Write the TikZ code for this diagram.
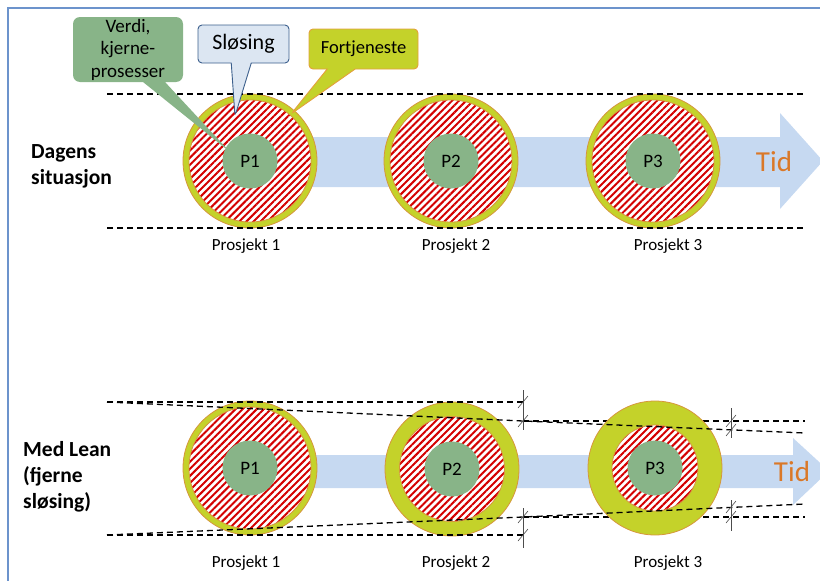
\documentclass[tikz,border=0pt]{standalone}
\usepackage{fontspec}
\setmainfont{Carlito}
\usetikzlibrary{shapes.callouts,patterns.meta}

\definecolor{ringgreen}{RGB}{196,210,42}
\definecolor{ringedge}{RGB}{214,150,60}
\definecolor{hatchred}{RGB}{212,0,0}
\definecolor{coregreen}{RGB}{136,180,136}
\definecolor{arrowblue}{RGB}{198,217,241}
\definecolor{slosblue}{RGB}{220,230,242}
\definecolor{slosedge}{RGB}{60,95,140}
\definecolor{fortedge}{RGB}{228,160,60}
\definecolor{tidorange}{RGB}{218,120,40}
\definecolor{frameblue}{RGB}{108,147,204}

\begin{document}
\begin{tikzpicture}[x=1pt,y=-1pt,
    ring/.style={circle,draw=ringedge,line width=0.8pt,fill=ringgreen,inner sep=0pt,minimum size=134pt},
    waste/.style={circle,draw=ringedge,line width=0.8pt,preaction={fill=white},
      pattern={Lines[angle=45,distance=5pt,line width=2pt]},pattern color=hatchred,inner sep=0pt},
    core/.style={circle,fill=coregreen,inner sep=0pt,minimum size=55pt,font=\fontsize{19}{20}\selectfont},
    limit/.style={dash pattern=on 6pt off 4pt,line width=1.3pt},
    brk/.style={line width=0.6pt,black!70},
    plabel/.style={inner sep=0pt,font=\fontsize{17}{18}\selectfont},
    rowlabel/.style={anchor=west,align=left,inner sep=0pt,font=\bfseries\fontsize{21.5}{26}\selectfont},
    tid/.style={inner sep=0pt,text=tidorange,font=\fontsize{29}{30}\selectfont},
    bubble/.style={rectangle callout,inner sep=0pt,align=center,rounded corners=4pt}]
    \useasboundingbox (0,0) rectangle (820,581);
    \clip (0,0) rectangle (820,581);
    % frame
    \draw[frameblue,line width=2pt] (8,581) -- (8,8) -- (820,8);
    % time arrows
    \fill[arrowblue] (250,137) -- (780,137) -- (780,113) -- (823,161) -- (780,209) -- (780,187) -- (250,187) -- cycle;
    \fill[arrowblue] (250,455) -- (793,455) -- (793,438) -- (829,471) -- (793,505) -- (793,488) -- (250,488) -- cycle;
    \node[tid] (tidtop) at (774,162) {Tid};
    \node[tid] (tidlow) at (792,472) {Tid};
    % row labels
    \node[rowlabel] (today) at (31,166) {Dagens\\situasjon};
    \node[rowlabel] (lean) at (23,477) {Med Lean\\(fjerne\\sløsing)};
    % limits behind the last project
    \coordinate (ub) at (523,421);
    \coordinate (ue) at (805,421);
    \coordinate (lb) at (523,517);
    \coordinate (le) at (805,517);
    \draw[limit] (ub) -- (ue);
    \draw[limit] (lb) -- (le);
    % projects today
    \foreach \i/\x in {1/250,2/451,3/653} {
      \node[ring] (topring\i) at (\x,161) {};
      \node[waste,minimum size=122pt] (topwaste\i) at (\x,161) {};
      \node[core] (topp\i) at (\x,161) {P\i};
    }
    % projects with lean
    \foreach \i/\x/\y/\d in {1/250/468/122,2/452/469/105,3/655/468/86} {
      \node[ring] (lowring\i) at (\x,\y) {};
      \node[waste,minimum size=\d pt] (lowwaste\i) at (\x,\y) {};
      \node[core] (lowp\i) at (\x,\y) {P\i};
    }
    \foreach \i/\x in {1/246,2/456,3/668} {
      \node[plabel] (toplabel\i) at (\x,246) {Prosjekt \i};
      \node[plabel] (lowlabel\i) at (\x,563) {Prosjekt \i};
    }
    % dashed limits
    \coordinate (ta) at (107,94);
    \coordinate (tb) at (806,94);
    \coordinate (tc) at (107,228);
    \coordinate (td) at (806,228);
    \draw[limit] (ta) -- (tb);
    \draw[limit] (tc) -- (td);
    \coordinate (ua) at (107,402);
    \coordinate (ua1) at (523,402);
    \coordinate (uf) at (805,433);
    \coordinate (la) at (107,535);
    \coordinate (la1) at (523,535);
    \coordinate (lf) at (805,504);
    \draw[limit] (ua) -- (ua1);
    \draw[limit] (ua) -- (ub) -- (uf);
    \draw[limit] (la) -- (la1);
    \draw[limit] (la) -- (lb) -- (lf);
    % break marks
    \foreach \x/\ya/\yb/\ta/\tb in {523/390/430/402/421,523/508/548/517/535,731/408/438/421/430,731/500/531/507/517} {
      \draw[brk] (\x,\ya) -- (\x,\yb);
      \draw[brk] (\x-5,\ta+6) -- (\x+5,\ta-6);
      \draw[brk] (\x-5,\tb+6) -- (\x+5,\tb-6);
    }
    % callouts
    \coordinate (vtip) at (230,152);
    \coordinate (stip) at (235,116);
    \coordinate (ftip) at (291,114);
    \node[bubble,fill=coregreen,rounded corners=7pt,minimum width=110pt,minimum height=65pt,
      callout absolute pointer={(vtip)},callout pointer width=22pt,
      font=\fontsize{19}{22.5}\selectfont] (verdi) at (128,49.5) {Verdi,\\kjerne-\\prosesser};
    \node[bubble,fill=slosblue,draw=slosedge,line width=0.9pt,minimum width=91pt,minimum height=38pt,
      callout absolute pointer={(stip)},callout pointer width=20pt,
      font=\fontsize{22}{24}\selectfont] (slos) at (243.5,44) {Sløsing};
    \node[bubble,fill=ringgreen,draw=fortedge,line width=0.9pt,minimum width=109pt,minimum height=40pt,
      callout absolute pointer={(ftip)},callout pointer width=28pt,
      font=\fontsize{18.5}{20}\selectfont] (fort) at (363.5,49) {Fortjeneste};
\end{tikzpicture}
\end{document}
